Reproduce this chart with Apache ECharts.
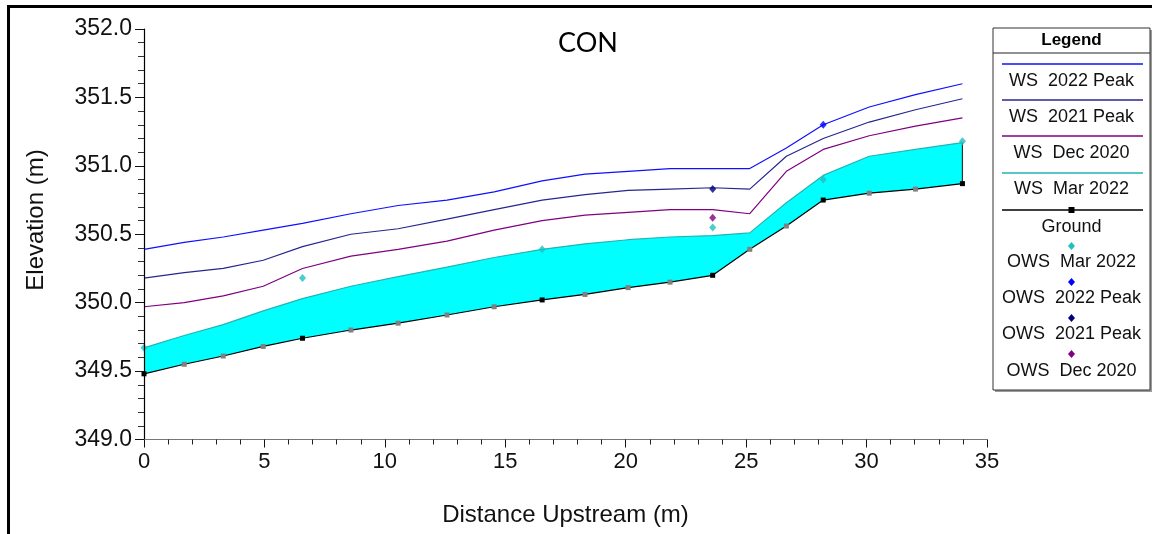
<!DOCTYPE html>
<html>
<head>
<meta charset="utf-8">
<script src="https://cdn.jsdelivr.net/npm/echarts@6/dist/echarts.min.js"></script>
<style>
html,body{margin:0;padding:0;background:#fff;}
#chart{width:1152px;height:534px;}
</style>
</head>
<body>
<div id="chart"></div>
<script>
// ---- data ----
const chartTitle = 'CON';
const xAxisName = 'Distance Upstream (m)';
const yAxisName = 'Elevation (m)';

// stations of all cross sections (m)
const stations = [0, 1.67, 3.29, 4.95, 6.58, 8.59, 10.55, 12.58, 14.54, 16.53, 18.31, 20.1, 21.84, 23.61, 25.15, 26.67, 28.2, 30.11, 32.03, 33.98];
// surveyed (non-interpolated) cross sections
const surveyedSections = [0, 6.58, 16.53, 23.61, 28.2, 33.98];

const ground   = [349.48, 349.55, 349.61, 349.68, 349.74, 349.80, 349.85, 349.91, 349.97, 350.02, 350.06, 350.11, 350.15, 350.20, 350.39, 350.56, 350.75, 350.80, 350.83, 350.87];
const wsMar2022  = [349.67, 349.76, 349.84, 349.94, 350.03, 350.12, 350.19, 350.26, 350.33, 350.39, 350.43, 350.46, 350.48, 350.49, 350.51, 350.73, 350.93, 351.07, 351.12, 351.17];
const wsDec2020  = [349.97, 350.00, 350.05, 350.12, 350.25, 350.34, 350.39, 350.45, 350.53, 350.60, 350.64, 350.66, 350.68, 350.68, 350.65, 350.96, 351.12, 351.22, 351.29, 351.35];
const ws2021Peak = [350.18, 350.22, 350.25, 350.31, 350.41, 350.50, 350.54, 350.61, 350.68, 350.75, 350.79, 350.82, 350.83, 350.84, 350.83, 351.07, 351.20, 351.32, 351.41, 351.49];
const ws2022Peak = [350.39, 350.44, 350.48, 350.53, 350.58, 350.65, 350.71, 350.75, 350.81, 350.89, 350.94, 350.96, 350.98, 350.98, 350.98, 351.13, 351.30, 351.43, 351.52, 351.60];

// observed water surfaces: [station, elevation]
const owsMar2022  = [[0, 349.67], [6.58, 350.18], [16.53, 350.39], [23.61, 350.55], [28.2, 350.90], [33.98, 351.18]];
const ows2022Peak = [[28.2, 351.30]];
const ows2021Peak = [[23.61, 350.83]];
const owsDec2020  = [[23.61, 350.62]];

const xTicks = {min: 0, max: 35, interval: 5};
const yTicks = {min: 349, max: 352, interval: 0.5};

const legendTitle = 'Legend';
const legendLines = ['WS  2022 Peak', 'WS  2021 Peak', 'WS  Dec 2020', 'WS  Mar 2022', 'Ground'];
const legendPoints = ['OWS  Mar 2022', 'OWS  2022 Peak', 'OWS  2021 Peak', 'OWS  Dec 2020'];

// ---- styles ----
const C = {
  ws2022: '#1010ff', ws2021: '#26268f', dec2020: '#800080', mar2022: '#22b4b4',
  fill: '#00ffff', ground: '#000000',
  owsMar: '#1fbfbf', ows2022: '#0000ff', ows2021: '#000080', owsDec: '#800080'
};
const lineColors = [C.ws2022, C.ws2021, C.dec2020, C.mar2022, C.ground];
const pointColors = [C.owsMar, C.ows2022, C.ows2021, C.owsDec];

const zip = (xs, ys) => xs.map((x, i) => [x, ys[i]]);
const font = 'Arial, "Liberation Sans", sans-serif';

function lineSeries(name, ys, color, z) {
  return {
    name, type: 'line', data: zip(stations, ys), showSymbol: false, symbol: 'none',
    lineStyle: {color, width: 1.2}, itemStyle: {color}, z, silent: true
  };
}
function owsSeries(name, pts, color) {
  return {
    name, type: 'scatter', data: pts, symbol: 'diamond', symbolSize: [7, 8],
    itemStyle: {color}, z: 6
  };
}

const chart = echarts.init(document.getElementById('chart'), null, {renderer: 'canvas'});

// legend graphic
const LX = 993, LY = 28, LW = 157, LH = 362, LC = LX + LW / 2;
const legendGraphic = [
  {type: 'rect', shape: {x: LX + 2, y: LY + 2, width: LW, height: LH}, style: {fill: '#9a9a9a'}},
  {type: 'rect', shape: {x: LX, y: LY, width: LW, height: LH}, style: {fill: '#fff', stroke: '#333', lineWidth: 1}},
  {type: 'line', shape: {x1: LX, y1: 53, x2: LX + LW, y2: 53}, style: {stroke: '#222', lineWidth: 1}},
  {type: 'text', x: LC, y: 40, style: {text: legendTitle, font: 'bold 17px ' + font, fill: '#000', align: 'center', verticalAlign: 'middle'}}
];
const lineYs = [64, 100, 136, 173, 210];
const lineTextYs = [81, 117, 153, 189, 227];
legendLines.forEach((t, i) => {
  legendGraphic.push({type: 'line', shape: {x1: 1002, y1: lineYs[i], x2: 1143, y2: lineYs[i]}, style: {stroke: lineColors[i], lineWidth: 1.3}});
  legendGraphic.push({type: 'text', x: LC, y: lineTextYs[i], style: {text: t, font: '18px ' + font, fill: '#111', align: 'center', verticalAlign: 'middle'}});
});
legendGraphic.push({type: 'rect', shape: {x: LC - 3, y: 207, width: 6, height: 6}, style: {fill: '#000'}});
const ptYs = [246, 282, 318, 354];
const ptTextYs = [262, 298, 334, 371];
legendPoints.forEach((t, i) => {
  legendGraphic.push({type: 'polygon', shape: {points: [[LC, ptYs[i] - 4], [LC + 3.5, ptYs[i]], [LC, ptYs[i] + 4], [LC - 3.5, ptYs[i]]]}, style: {fill: pointColors[i]}});
  legendGraphic.push({type: 'text', x: LC, y: ptTextYs[i], style: {text: t, font: '18px ' + font, fill: '#111', align: 'center', verticalAlign: 'middle'}});
});

const option = {
  animation: false,
  backgroundColor: '#fff',
  title: {
    text: chartTitle, left: 583, top: 25, textAlign: 'center',
    textStyle: {fontFamily: 'Lato, "Open Sans", sans-serif', fontWeight: 'normal', fontSize: 27, color: '#000'}
  },
  grid: {left: 144, right: 165, top: 29, bottom: 94.5, containLabel: false},
  xAxis: {
    type: 'value', min: xTicks.min, max: xTicks.max, interval: xTicks.interval,
    name: xAxisName, nameLocation: 'middle', nameGap: 64,
    nameTextStyle: {fontFamily: font, fontSize: 24, color: '#111'},
    axisLine: {show: true, onZero: false, lineStyle: {color: '#777', width: 1.2}},
    axisTick: {show: true, length: 8, lineStyle: {color: '#111'}},
    minorTick: {show: true, splitNumber: 5, length: 5, lineStyle: {color: '#222'}},
    axisLabel: {fontFamily: font, fontSize: 22, color: '#111', margin: 11},
    splitLine: {show: false}, z: 10
  },
  yAxis: {
    type: 'value', min: yTicks.min, max: yTicks.max, interval: yTicks.interval,
    axisLine: {show: true, onZero: false, lineStyle: {color: '#000', width: 1.2}},
    axisTick: {show: true, length: 9, lineStyle: {color: '#111'}},
    minorTick: {show: true, splitNumber: 5, length: 6, lineStyle: {color: '#333'}},
    axisLabel: {fontFamily: font, fontSize: 23, color: '#111', margin: 12, formatter: v => v.toFixed(1)},
    splitLine: {show: false}, z: 10
  },
  graphic: [
    {type: 'rect', shape: {x: 8.5, y: 6.5, width: 1300, height: 700}, style: {fill: 'none', stroke: '#000', lineWidth: 3}, z: 100},
    {type: 'text', x: 36, y: 220, rotation: Math.PI / 2,
     style: {text: yAxisName, font: '24px ' + font, fill: '#111', align: 'center', verticalAlign: 'middle'}},
    ...legendGraphic
  ],
  series: [
    {
      name: 'fill', type: 'custom', silent: true, z: 1,
      data: [[stations[0], ground[0]]],
      renderItem: function (params, api) {
        const top = stations.map((x, i) => api.coord([x, wsMar2022[i]]));
        const bot = stations.map((x, i) => api.coord([x, ground[i]])).reverse();
        const n = stations.length - 1;
        const a = api.coord([stations[n], ground[n]]);
        const b = api.coord([stations[n], wsMar2022[n]]);
        return {
          type: 'group',
          children: [
            {type: 'polygon', shape: {points: top.concat(bot)}, style: {fill: C.fill, stroke: null}},
            {type: 'line', shape: {x1: a[0], y1: a[1], x2: b[0], y2: b[1]}, style: {stroke: '#333', lineWidth: 1.2}}
          ]
        };
      }
    },
    lineSeries('WS  Mar 2022', wsMar2022, C.mar2022, 3),
    lineSeries('WS  Dec 2020', wsDec2020, C.dec2020, 3),
    lineSeries('WS  2021 Peak', ws2021Peak, C.ws2021, 3),
    lineSeries('WS  2022 Peak', ws2022Peak, C.ws2022, 3),
    {
      name: 'Ground', type: 'line', data: zip(stations, ground),
      symbol: 'rect', symbolSize: 5, showSymbol: true, showAllSymbol: true,
      lineStyle: {color: C.ground, width: 1.2},
      itemStyle: {color: p => surveyedSections.includes(p.value[0]) ? '#000' : '#808080'},
      z: 4
    },
    owsSeries('OWS  Mar 2022', owsMar2022, C.owsMar),
    owsSeries('OWS  2022 Peak', ows2022Peak, C.ows2022),
    owsSeries('OWS  2021 Peak', ows2021Peak, C.ows2021),
    owsSeries('OWS  Dec 2020', owsDec2020, C.owsDec)
  ]
};
chart.setOption(option);
</script>
</body>
</html>
